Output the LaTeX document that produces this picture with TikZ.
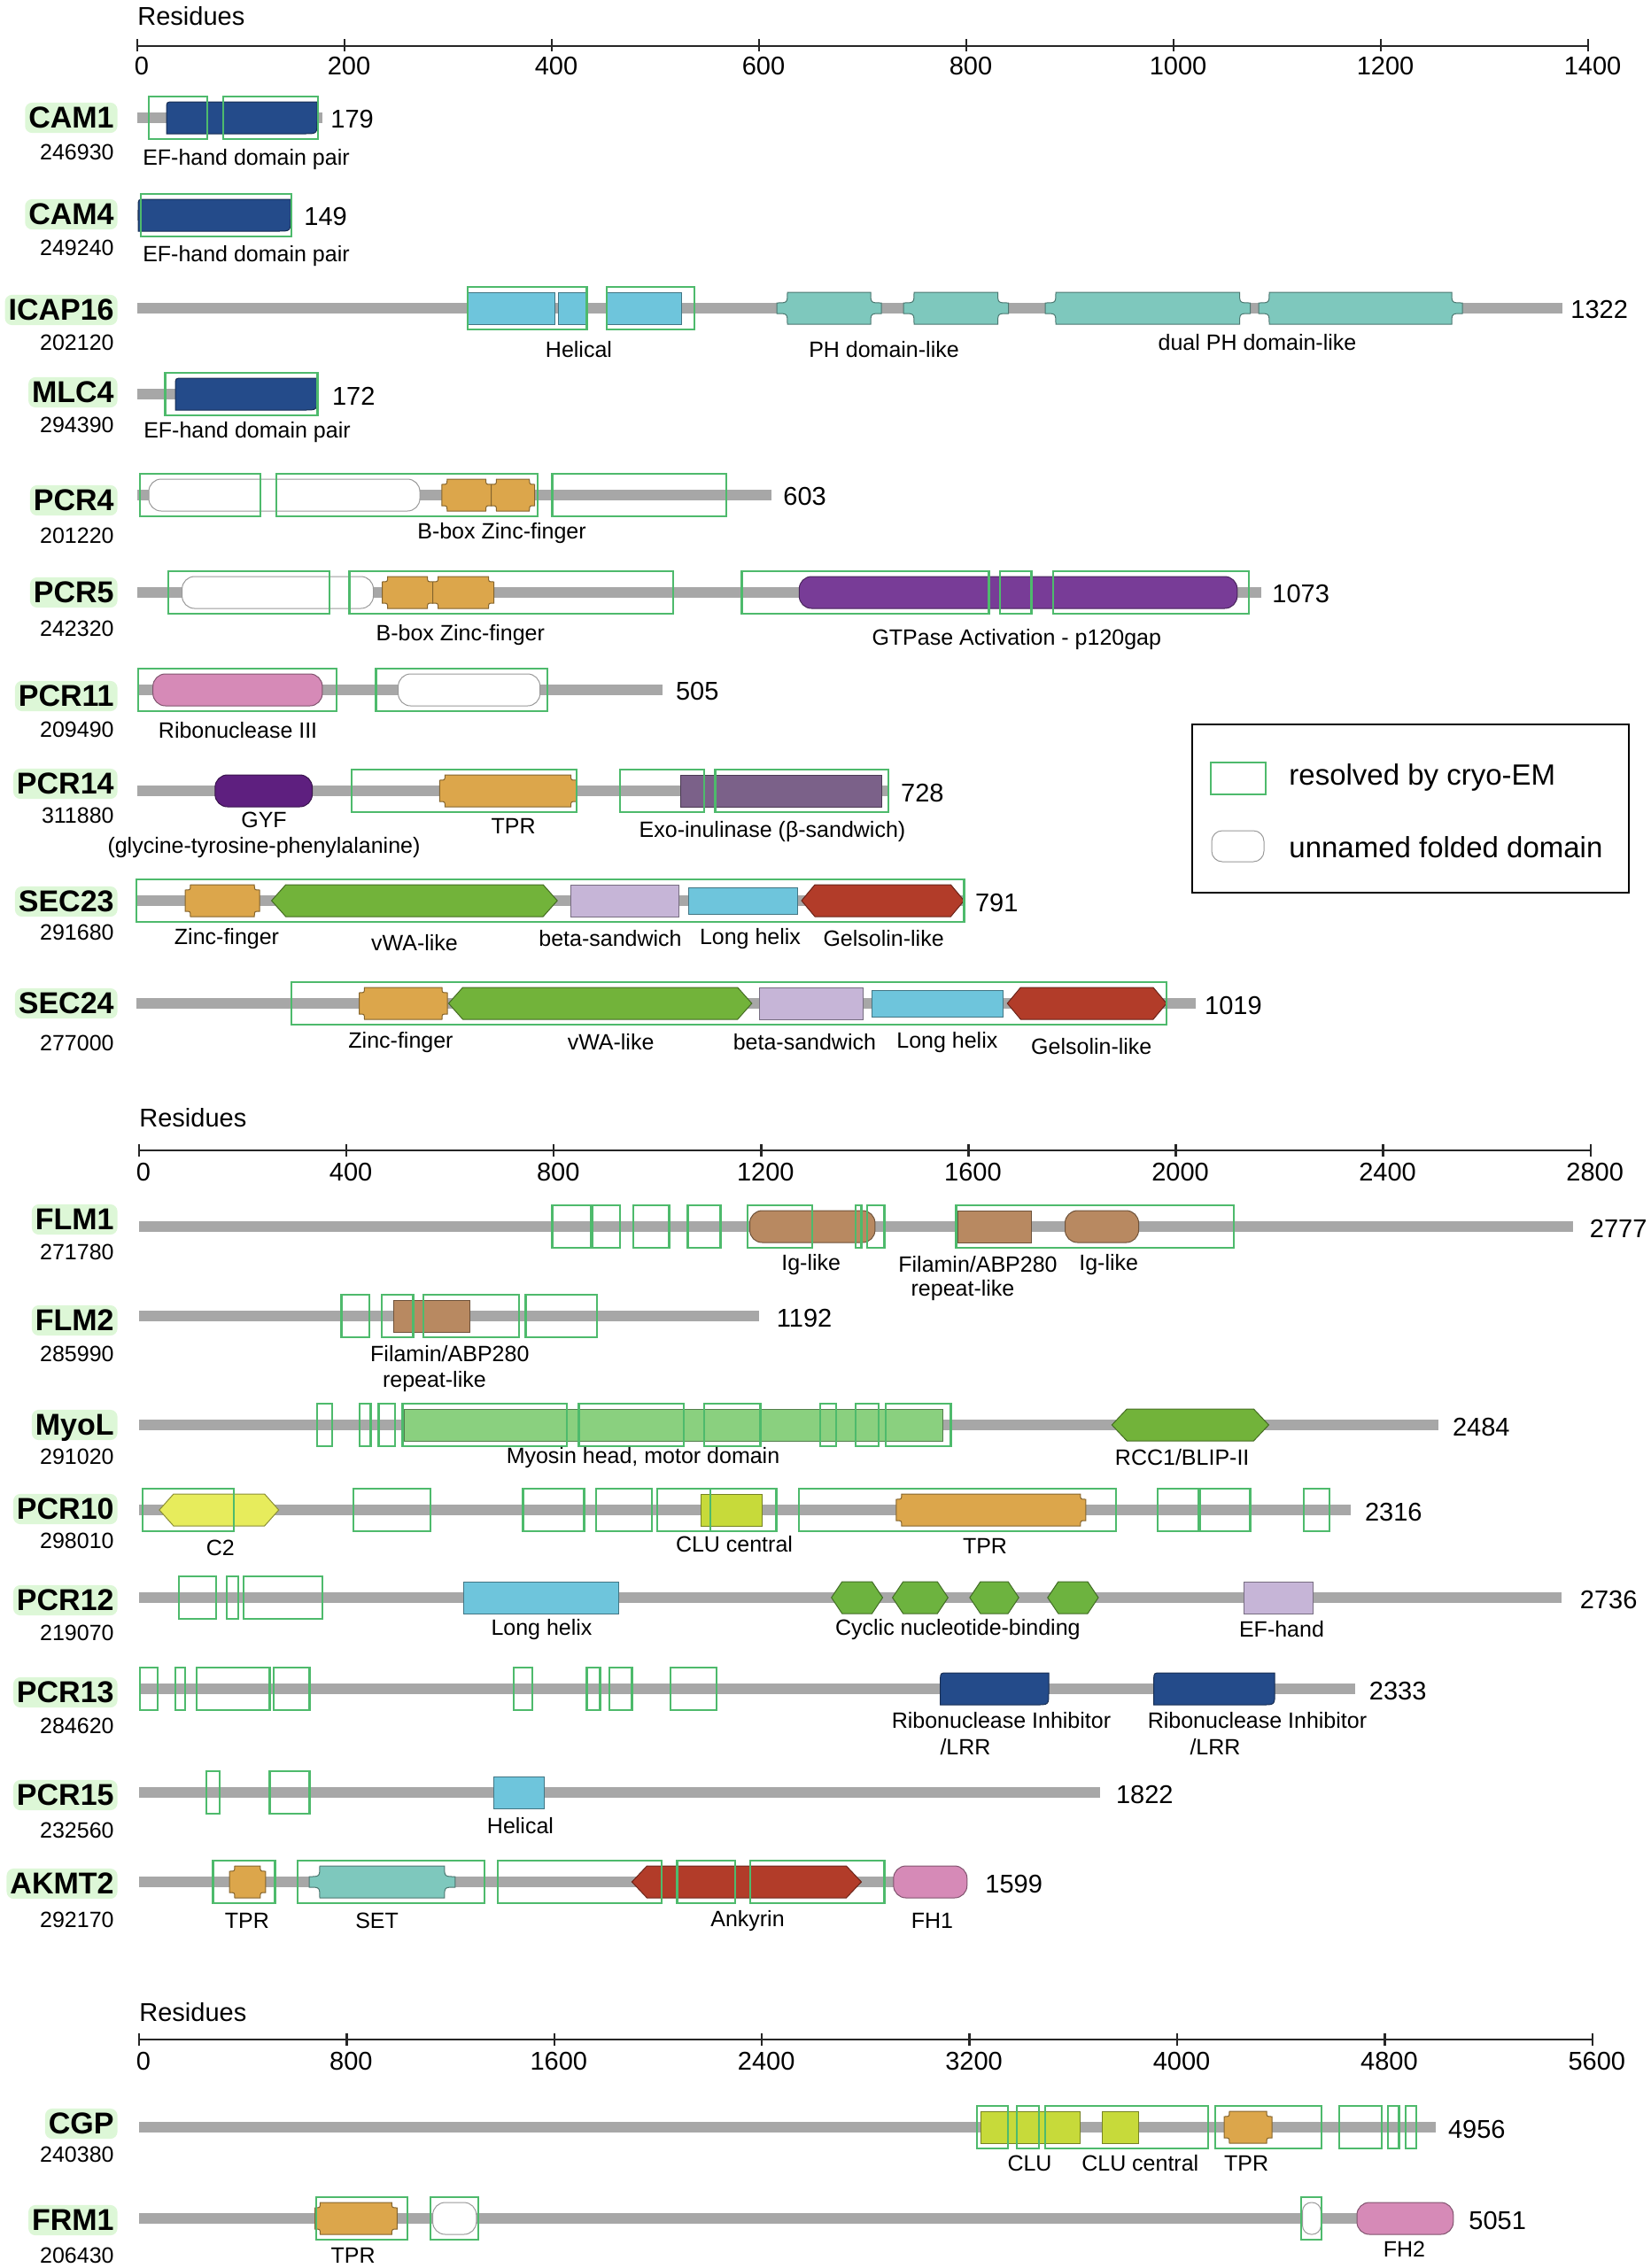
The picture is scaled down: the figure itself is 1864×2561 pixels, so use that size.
\documentclass[tikz,border=0pt]{standalone}
\usepackage{fontspec}
\setmainfont{Liberation Sans}
\usepackage{tikz}

\definecolor{bbgrey}{HTML}{A7A7A7}
\definecolor{cryogreen}{HTML}{4EBA6C}
\definecolor{namebg}{HTML}{DDF7D7}
\definecolor{efblue}{HTML}{244B8A}
\definecolor{helixblue}{HTML}{6EC5DC}
\definecolor{phteal}{HTML}{7EC8BD}
\definecolor{zincorange}{HTML}{DCA64B}
\definecolor{gappurple}{HTML}{783C97}
\definecolor{rnasepink}{HTML}{D68AB7}
\definecolor{gyfpurple}{HTML}{5E1F7F}
\definecolor{exopurple}{HTML}{7B6189}
\definecolor{vwagreen}{HTML}{72B33A}
\definecolor{betalilac}{HTML}{C6B5D7}
\definecolor{gelred}{HTML}{B23C29}
\definecolor{igbrown}{HTML}{B88961}
\definecolor{myogreen}{HTML}{8AD07F}
\definecolor{c2yellow}{HTML}{E7EC5C}
\definecolor{clugreen}{HTML}{C7DA3A}
\definecolor{cnbgreen}{HTML}{6DB33F}

% backbone and cryo-EM box: {from}{to}{row}
\newcommand{\bbone}[3]{\fill[bbgrey] (#1,#3-6) rectangle (#2,#3+6);}
\newcommand{\cryo}[3]{\draw[cryobox] (#1,#3-24) rectangle (#2,#3+24);}
% domains: {from}{to}{row}{colour}
\newcommand{\rectdom}[5][18]{\draw[dom=#5] (#2,#4-#1) rectangle (#3,#4+#1);}
\newcommand{\pilldom}[4]{\draw[dom=#4, rounded corners=7pt] (#1,#3-18) rectangle (#2,#3+18);}
\newcommand{\notchdom}[5][6]{\draw[dom=#5] (#2+#1,#4-18) -- (#3-#1,#4-18)
  .. controls (#3-#1,#4-18+#1) .. (#3,#4-18+#1) -- (#3,#4+18-#1)
  .. controls (#3-#1,#4+18-#1) .. (#3-#1,#4+18) -- (#2+#1,#4+18)
  .. controls (#2+#1,#4+18-#1) .. (#2,#4+18-#1) -- (#2,#4-18+#1)
  .. controls (#2+#1,#4-18+#1) .. (#2+#1,#4-18) -- cycle;}
\newcommand{\hexdom}[5][14]{\draw[dom=#5] (#2,#4) -- (#2+#1,#4-18) -- (#3-#1,#4-18) -- (#3,#4)
  -- (#3-#1,#4+18) -- (#2+#1,#4+18) -- cycle;}
\newcommand{\efdom}[4]{\draw[dom=#4] (#1,#3+18) -- (#1,#3-10) .. controls (#1,#3-18) .. (#1+8,#3-18)
  -- (#2,#3-18) -- (#2,#3+4) .. controls (#2,#3+18) .. (#2-14,#3+18) -- cycle;}

\begin{document}
\begin{tikzpicture}[
    x=0.5pt, y=-0.5pt,
    dom/.style={fill=#1, draw=#1!60!black, line width=0.5pt},
    cryobox/.style={draw=cryogreen, line width=1.1pt},
    axisln/.style={draw=black!85, line width=1.2pt},
    pname/.style={fill=namebg, rounded corners=4pt, anchor=east, inner xsep=2pt, inner ysep=2pt,
        text height=12.3pt, text depth=0.8pt, font=\bfseries\fontsize{17}{20}\selectfont},
    idtxt/.style={anchor=east, inner sep=0pt, font=\fontsize{12.5}{15}\selectfont},
    lbl/.style={inner sep=0pt, font=\fontsize{12.5}{15}\selectfont},
    lenlbl/.style={anchor=west, inner sep=0pt, font=\fontsize{14.5}{17}\selectfont},
    ticklbl/.style={inner sep=0pt, font=\fontsize{14.5}{17}\selectfont},
    legtxt/.style={anchor=west, inner sep=0pt, font=\fontsize{16.5}{20}\selectfont}
]
\useasboundingbox (0,0) rectangle (1864,2561);

% ---------- axis 1
\node[ticklbl, anchor=west] (res1) at (155,18) {Residues};
\draw[axisln] (155,52) -- (1793,52);
\foreach \v [count=\i from 0] in {0,200,...,1400} {
    \draw[axisln] (155+\i*234,44) -- (155+\i*234,58);
    \node[ticklbl] (ta\i) at (160+\i*234,75) {\v};
}

% CAM1
\bbone{155}{364}{133}
\efdom{188}{358}{133}{efblue}
\cryo{168}{234}{133} \cryo{252}{359}{133}
\node[pname] (cam1) at (133,133) {CAM1};
\node[idtxt] (cam1id) at (129,172) {246930};
\node[lenlbl] (cam1len) at (373,135) {179};
\node[lbl] (cam1ef) at (278,180) {EF-hand domain pair};

% CAM4
\bbone{155}{329}{243}
\efdom{156}{328}{243}{efblue}
\cryo{159}{329}{243}
\node[pname] (cam4) at (133,242) {CAM4};
\node[idtxt] (cam4id) at (129,280) {249240};
\node[lenlbl] (cam4len) at (343,245) {149};
\node[lbl] (cam4ef) at (278,289) {EF-hand domain pair};

% ICAP16
\bbone{155}{1764}{348}
\rectdom{527.6}{626.5}{348}{helixblue}
\rectdom{630.7}{661}{348}{helixblue}
\rectdom{684.6}{769.8}{348}{helixblue}
\notchdom[12]{877}{995}{348}{phteal}
\notchdom[12]{1020}{1138.5}{348}{phteal}
\notchdom[12]{1180}{1411.5}{348}{phteal}
\notchdom[12]{1421}{1651}{348}{phteal}
\cryo{527.6}{662.4}{348} \cryo{684.6}{783.6}{348}
\node[pname] (icap16) at (133,350) {ICAP16};
\node[idtxt] (icap16id) at (129,387) {202120};
\node[lenlbl] (icap16len) at (1773,350) {1322};
\node[lbl] (icap16hel) at (653.5,395) {Helical};
\node[lbl] (icap16ph) at (998,395) {PH domain-like};
\node[lbl] (icap16dph) at (1419.5,387) {dual PH domain-like};

% MLC4
\bbone{155}{358}{445}
\efdom{198}{358}{445}{efblue}
\cryo{186.4}{358.5}{445}
\node[pname] (mlc4) at (133,443) {MLC4};
\node[idtxt] (mlc4id) at (129,480) {294390};
\node[lenlbl] (mlc4len) at (374.7,447) {172};
\node[lbl] (mlc4ef) at (279,488) {EF-hand domain pair};

% PCR4
\bbone{155}{870.5}{559}
\pilldom{168}{474}{559}{white}
\notchdom{498.8}{554.5}{559}{zincorange}
\notchdom{554.5}{603.7}{559}{zincorange}
\cryo{157.7}{293.8}{559} \cryo{311.7}{606.7}{559} \cryo{623.5}{820}{559}
\node[pname] (pcr4) at (133,565) {PCR4};
\node[idtxt] (pcr4id) at (129,605) {201220};
\node[lenlbl] (pcr4len) at (884,561) {603};
\node[lbl] (pcr4bb) at (566.5,602) {B-box Zinc-finger};

% PCR5
\bbone{155}{1424}{669}
\pilldom{205.6}{421.5}{669}{white}
\notchdom{431.6}{488.6}{669}{zincorange}
\notchdom{488.6}{557.5}{669}{zincorange}
\pilldom{902.3}{1396.8}{669}{gappurple}
\cryo{190}{371.7}{669} \cryo{394.5}{759.6}{669} \cryo{837.5}{1116.4}{669}
\cryo{1128.7}{1164.4}{669} \cryo{1189}{1410}{669}
\node[pname] (pcr5) at (133,669) {PCR5};
\node[idtxt] (pcr5id) at (129,710) {242320};
\node[lenlbl] (pcr5len) at (1436,671) {1073};
\node[lbl] (pcr5bb) at (519.8,717) {B-box Zinc-finger};
\node[lbl] (pcr5gap) at (1147.8,721.7) {GTPase Activation - p120gap};

% PCR11
\bbone{155}{747.6}{779}
\pilldom{172.7}{363.9}{779}{rnasepink}
\pilldom{449.6}{609.7}{779}{white}
\cryo{155.9}{380}{779} \cryo{424.4}{618}{779}
\node[pname] (pcr11) at (133,786) {PCR11};
\node[idtxt] (pcr11id) at (129,824) {209490};
\node[lenlbl] (pcr11len) at (762.6,781) {505};
\node[lbl] (pcr11rn) at (268.6,825) {Ribonuclease III};

% PCR14
\bbone{155}{1003.3}{893}
\pilldom{242.8}{352.5}{893}{gyfpurple}
\notchdom{496.4}{650.5}{893}{zincorange}
\rectdom{768.6}{995.3}{893}{exopurple}
\cryo{396.9}{651}{893} \cryo{699.6}{795}{893} \cryo{807.5}{1003.3}{893}
\node[pname] (pcr14) at (133,885) {PCR14};
\node[idtxt] (pcr14id) at (129,921) {311880};
\node[lenlbl] (pcr14len) at (1016.8,895) {728};
\node[lbl] (pcr14gyf) at (298,926) {GYF};
\node[lbl] (pcr14gyf2) at (298,957) {(glycine-tyrosine-phenylalanine)};
\node[lbl] (pcr14tpr) at (579.7,933) {TPR};
\node[lbl] (pcr14exo) at (872,939) {Exo-inulinase (β-sandwich)};

% SEC23
\bbone{154}{1088}{1017}
\notchdom{209}{293.2}{1017}{zincorange}
\hexdom[16]{306.6}{629.2}{1017}{vwagreen}
\rectdom{644}{766}{1017}{betalilac}
\rectdom[15]{777.3}{900}{1017}{helixblue}
\hexdom[15]{905}{1088.4}{1017}{gelred}
\cryo{154.3}{1088.4}{1017}
\node[pname] (sec23) at (133,1018) {SEC23};
\node[idtxt] (sec23id) at (129,1053) {291680};
\node[lenlbl] (sec23len) at (1100.6,1019) {791};
\node[lbl] (sec23zf) at (256,1060) {Zinc-finger};
\node[lbl] (sec23vwa) at (468,1065) {vWA-like};
\node[lbl] (sec23bs) at (689,1060) {beta-sandwich};
\node[lbl] (sec23lh) at (847,1060) {Long helix};
\node[lbl] (sec23gel) at (997.6,1060) {Gelsolin-like};

% SEC24
\bbone{154}{1349.7}{1133}
\notchdom{405.5}{505}{1133}{zincorange}
\hexdom[16]{506.5}{848.8}{1133}{vwagreen}
\rectdom{857.5}{974}{1133}{betalilac}
\rectdom[15]{984.6}{1132.5}{1133}{helixblue}
\hexdom[15]{1137.3}{1317}{1133}{gelred}
\cryo{329}{1317}{1133}
\node[pname] (sec24) at (133,1133) {SEC24};
\node[idtxt] (sec24id) at (129,1178) {277000};
\node[lenlbl] (sec24len) at (1359.8,1135) {1019};
\node[lbl] (sec24zf) at (452.5,1177) {Zinc-finger};
\node[lbl] (sec24vwa) at (689.6,1177) {vWA-like};
\node[lbl] (sec24bs) at (908.4,1177) {beta-sandwich};
\node[lbl] (sec24lh) at (1069.4,1177) {Long helix};
\node[lbl] (sec24gel) at (1232.3,1182) {Gelsolin-like};

% legend
\draw[line width=1.2pt] (1346,818) rectangle (1839,1008);
\draw[cryobox] (1367,861) rectangle (1429,897);
\draw[dom=white, rounded corners=6pt] (1368,938) rectangle (1427,973);
\node[legtxt] (legcryo) at (1455,878) {resolved by cryo-EM};
\node[legtxt] (legfold) at (1455,957) {unnamed folded domain};

% ---------- axis 2
\node[ticklbl, anchor=west] (res2) at (157,1262) {Residues};
\draw[axisln] (157,1299) -- (1796,1299);
\foreach \v [count=\i from 0] in {0,400,...,2800} {
    \draw[axisln] (157+\i*234.1,1292) -- (157+\i*234.1,1306);
    \node[ticklbl] (tb\i) at (162+\i*234.1,1323) {\v};
}

% FLM1
\bbone{157}{1776}{1385}
\pilldom{846.5}{987.9}{1385}{igbrown}
\rectdom{1081.4}{1164.4}{1385}{igbrown}
\pilldom{1202.5}{1285.5}{1385}{igbrown}
\cryo{623.5}{666.6}{1385} \cryo{668.4}{699.6}{1385} \cryo{714.6}{755.4}{1385}
\cryo{776.4}{813.5}{1385} \cryo{844}{917.2}{1385} \cryo{965.8}{972.5}{1385}
\cryo{978.7}{998.4}{1385} \cryo{1079.5}{1393}{1385}
\node[pname] (flm1) at (133,1377) {FLM1};
\node[idtxt] (flm1id) at (129,1414) {271780};
\node[lenlbl] (flm1len) at (1794.5,1387) {2777};
\node[lbl] (flm1ig) at (915.7,1428) {Ig-like};
\node[lbl] (flm1fil) at (1104,1428) {Filamin/ABP280};
\node[lbl] (flm1rep) at (1087,1457) {repeat-like};
\node[lbl] (flm1ig2) at (1251.7,1428) {Ig-like};

% FLM2
\bbone{157}{857.3}{1486}
\rectdom{444.2}{530.6}{1486}{igbrown}
\cryo{385.5}{416.7}{1486} \cryo{431}{466.4}{1486} \cryo{477.8}{585.7}{1486}
\cryo{593.5}{673.8}{1486}
\node[pname] (flm2) at (133,1491) {FLM2};
\node[idtxt] (flm2id) at (129,1529) {285990};
\node[lenlbl] (flm2len) at (876.5,1488) {1192};
\node[lbl] (flm2fil) at (507.8,1529) {Filamin/ABP280};
\node[lbl] (flm2rep) at (490.4,1560) {repeat-like};

% MyoL
\bbone{157}{1623.6}{1609}
\rectdom{456.8}{1064.8}{1609}{myogreen}
\hexdom[17]{1255.3}{1432.4}{1609}{vwagreen}
\cryo{357.9}{374.7}{1609} \cryo{405.9}{418.5}{1609} \cryo{427.4}{446}{1609}
\cryo{454.4}{640.3}{1609} \cryo{653.5}{771.6}{1609} \cryo{795}{858.5}{1609}
\cryo{926.2}{944.3}{1609} \cryo{965.8}{992.2}{1609} \cryo{999.6}{1073.4}{1609}
\node[pname] (myol) at (133,1609) {MyoL};
\node[idtxt] (myolid) at (129,1645) {291020};
\node[lenlbl] (myollen) at (1639.6,1611) {2484};
\node[lbl] (myolhead) at (726,1646) {Myosin head, motor domain};
\node[lbl] (myolrcc) at (1334.7,1646) {RCC1/BLIP-II};

% PCR10
\bbone{157}{1525.2}{1705}
\hexdom[16]{179.9}{314.7}{1705}{c2yellow}
\rectdom{791.3}{860.3}{1705}{clugreen}
\notchdom{1011.9}{1225.8}{1705}{zincorange}
\cryo{160.7}{263.8}{1705} \cryo{398.7}{485.6}{1705} \cryo{590.5}{659.5}{1705}
\cryo{673.2}{735.6}{1705} \cryo{741.6}{802}{1705} \cryo{802}{876.5}{1705}
\cryo{902.2}{1259.7}{1705} \cryo{1307}{1353}{1705} \cryo{1355}{1411.5}{1705}
\cryo{1471.8}{1501.3}{1705}
\node[pname] (pcr10) at (133,1704) {PCR10};
\node[idtxt] (pcr10id) at (129,1740) {298010};
\node[lenlbl] (pcr10len) at (1540.6,1707) {2316};
\node[lbl] (pcr10c2) at (248.8,1748) {C2};
\node[lbl] (pcr10clu) at (829,1744) {CLU central};
\node[lbl] (pcr10tpr) at (1112,1746) {TPR};

% PCR12
\bbone{157}{1762.6}{1804}
\rectdom{523.4}{698.4}{1804}{helixblue}
\hexdom[12]{938.7}{996.5}{1804}{cnbgreen}
\hexdom[12]{1007.6}{1070.3}{1804}{cnbgreen}
\hexdom[12]{1094.9}{1150.2}{1804}{cnbgreen}
\hexdom[12]{1182.8}{1240}{1804}{cnbgreen}
\rectdom{1404}{1482.8}{1804}{betalilac}
\cryo{202}{244}{1804} \cryo{256}{268.6}{1804} \cryo{274.6}{364}{1804}
\node[pname] (pcr12) at (133,1807) {PCR12};
\node[idtxt] (pcr12id) at (129,1844) {219070};
\node[lenlbl] (pcr12len) at (1783.5,1806) {2736};
\node[lbl] (pcr12lh) at (611.5,1840) {Long helix};
\node[lbl] (pcr12cnb) at (1081.4,1840) {Cyclic nucleotide-binding};
\node[lbl] (pcr12ef) at (1447,1840) {EF-hand};

% PCR13
\bbone{157}{1530}{1907}
\efdom{1061.7}{1184}{1907}{efblue}
\efdom{1302.7}{1439.2}{1907}{efblue}
\cryo{157.7}{178}{1907} \cryo{197.8}{209.2}{1907} \cryo{221.8}{304.5}{1907}
\cryo{308.7}{349.5}{1907} \cryo{580.3}{600.7}{1907} \cryo{662.4}{677.4}{1907}
\cryo{688.2}{713.4}{1907} \cryo{756.6}{809.3}{1907}
\node[pname] (pcr13) at (133,1911) {PCR13};
\node[idtxt] (pcr13id) at (129,1949) {284620};
\node[lenlbl] (pcr13len) at (1545.5,1909) {2333};
\node[lbl] (pcr13ri) at (1130.5,1943) {Ribonuclease Inhibitor};
\node[lbl] (pcr13lrr) at (1090,1973) {/LRR};
\node[lbl] (pcr13ri2) at (1419.5,1943) {Ribonuclease Inhibitor};
\node[lbl] (pcr13lrr2) at (1372,1973) {/LRR};

% PCR15
\bbone{157}{1242.4}{2024}
\rectdom{557.5}{614.5}{2024}{helixblue}
\cryo{232.6}{247.6}{2024} \cryo{304.5}{349.5}{2024}
\node[pname] (pcr15) at (133,2027) {PCR15};
\node[idtxt] (pcr15id) at (129,2067) {232560};
\node[lenlbl] (pcr15len) at (1259.7,2026) {1822};
\node[lbl] (pcr15hel) at (587.5,2062) {Helical};

% AKMT2
\bbone{157}{1050}{2125}
\notchdom{259}{299.8}{2125}{zincorange}
\notchdom[12]{349}{513.8}{2125}{phteal}
\hexdom[17]{713.4}{972.5}{2125}{gelred}
\pilldom{1008.8}{1091.8}{2125}{rnasepink}
\cryo{240.4}{310.5}{2125} \cryo{336.3}{547.3}{2125} \cryo{561.7}{747}{2125}
\cryo{764.4}{830.3}{2125} \cryo{847}{998.4}{2125}
\node[pname] (akmt2) at (133,2127) {AKMT2};
\node[idtxt] (akmt2id) at (129,2168) {292170};
\node[lenlbl] (akmt2len) at (1112,2127) {1599};
\node[lbl] (akmt2tpr) at (278.8,2169) {TPR};
\node[lbl] (akmt2set) at (425.6,2169) {SET};
\node[lbl] (akmt2ank) at (844,2169) {Ankyrin};
\node[lbl] (akmt2fh1) at (1052.5,2169) {FH1};

% ---------- axis 3
\node[ticklbl, anchor=west] (res3) at (157,2272) {Residues};
\draw[axisln] (157,2303) -- (1797.8,2303);
\foreach \v [count=\i from 0] in {0,800,...,5600} {
    \draw[axisln] (157+\i*234.4,2296) -- (157+\i*234.4,2310);
    \node[ticklbl] (tc\i) at (162+\i*234.4,2327) {\v};
}

% CGP
\bbone{157}{1621}{2402}
\rectdom{1107.8}{1219.7}{2402}{clugreen}
\rectdom{1244.3}{1285.5}{2402}{clugreen}
\notchdom{1382}{1436}{2402}{zincorange}
\cryo{1102.9}{1137.9}{2402} \cryo{1147.8}{1173}{2402} \cryo{1180.3}{1364.2}{2402}
\cryo{1372.2}{1492}{2402} \cryo{1511.7}{1559.7}{2402} \cryo{1567}{1579.4}{2402}
\cryo{1587.3}{1599}{2402}
\node[pname] (cgp) at (133,2398) {CGP};
\node[idtxt] (cgpid) at (129,2433) {240380};
\node[lenlbl] (cgplen) at (1634.7,2404) {4956};
\node[lbl] (cgpclu) at (1162.5,2443) {CLU};
\node[lbl] (cgpclc) at (1287.3,2443) {CLU central};
\node[lbl] (cgptpr) at (1407.2,2443) {TPR};

% FRM1
\bbone{157}{1600}{2505}
\notchdom{355.5}{448.4}{2505}{zincorange}
\pilldom{488.6}{537.8}{2505}{white}
\draw[dom=white, rounded corners=5pt] (1470.5,2487) rectangle (1491.4,2523);
\pilldom{1532}{1640.8}{2505}{rnasepink}
\cryo{356.7}{459.8}{2505} \cryo{485.6}{539.6}{2505} \cryo{1468.7}{1492}{2505}
\node[pname] (frm1) at (133,2507) {FRM1};
\node[idtxt] (frm1id) at (129,2547) {206430};
\node[lenlbl] (frm1len) at (1658,2507) {5051};
\node[lbl] (frm1tpr) at (398.7,2547) {TPR};
\node[lbl] (frm1fh2) at (1585.5,2540) {FH2};
\end{tikzpicture}
\end{document}
